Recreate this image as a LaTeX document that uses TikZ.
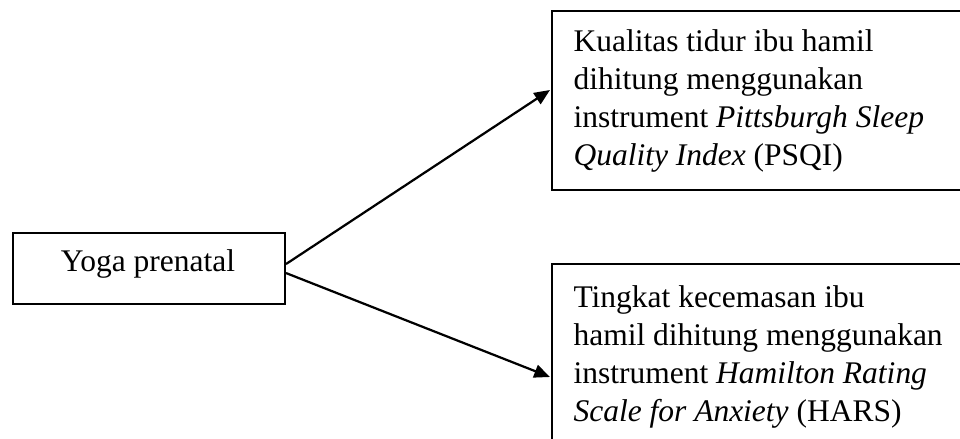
\documentclass[tikz,border=0pt]{standalone}
\usepackage{fontspec}
\setmainfont{Liberation Serif}
\usetikzlibrary{arrows.meta,calc}
\begin{document}
\begin{tikzpicture}[x=0.381pt,y=-0.381pt,
  box/.style={draw,line width=0.8pt,rectangle,inner sep=0pt,anchor=north west},
  lbl/.style={inner sep=0pt,align=left,font=\fontsize{12}{14.5}\selectfont},
  conn/.style={line width=0.85pt,-{Triangle[length=6pt,width=5pt]}}]
\useasboundingbox (0,0) rectangle (960,439);
\clip (0,0) rectangle (960,439);
\node[box,minimum width=103.6pt,minimum height=27.05pt] (yoga) at (12,232) {};
\node[box,minimum width=171.1pt,minimum height=68.2pt] (box1) at (551,10) {};
\node[box,minimum width=171.1pt,minimum height=76.2pt] (box2) at (551,263) {};
\node[lbl,anchor=base] (yogatext) at (148,272) {Yoga prenatal};
\node[lbl,anchor=base west] (t1) at (573,166) {Kualitas tidur ibu hamil\\dihitung menggunakan\\instrument \textit{Pittsburgh Sleep}\\\textit{Quality Index} (PSQI)};
\node[lbl,anchor=base west] (t2) at (573,422) {Tingkat kecemasan ibu\\hamil dihitung menggunakan\\instrument \textit{Hamilton Rating}\\\textit{Scale for Anxiety} (HARS)};
\draw[conn] ($(yoga.east)+(0,-4.5)$) -- ($(box1.north west)+(-1,80)$);
\draw[conn] ($(yoga.east)+(0,4.5)$) -- ($(box2.north west)+(-1,114)$);
\end{tikzpicture}
\end{document}
